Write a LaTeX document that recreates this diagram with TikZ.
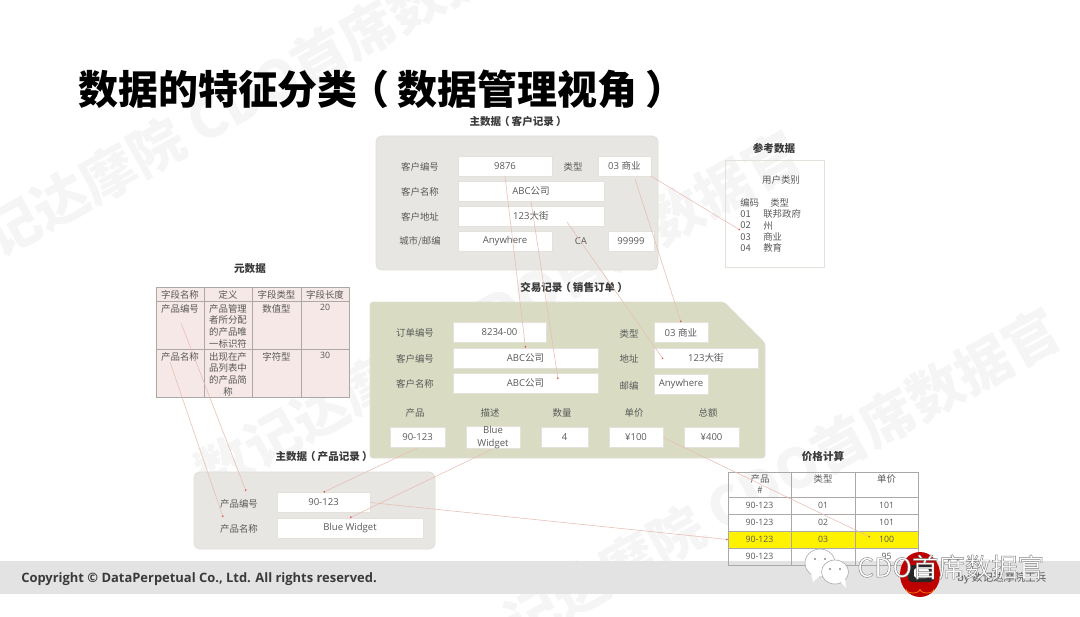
\documentclass[tikz,border=0pt]{standalone}
\usepackage{fontspec}
\setmainfont{Open Sans}
\newfontfamily\cjk{Noto Sans CJK SC}
\usetikzlibrary{arrows.meta,positioning,calc}
\usepackage{xcolor}
\definecolor{labelGray}{HTML}{595959}
\definecolor{headDark}{HTML}{3A3A3A}
\definecolor{panelGray}{HTML}{E7E6E2}
\definecolor{panelEdge}{HTML}{E0DED8}
\definecolor{panelOlive}{HTML}{D9DCC3}
\definecolor{fieldEdge}{HTML}{E3E1DA}
\definecolor{metaPink}{HTML}{F5E8E6}
\definecolor{gridGray}{HTML}{ABA8A6}
\definecolor{linkPink}{HTML}{E8BDB3}
\definecolor{linkDot}{HTML}{D8604F}
\definecolor{bandGray}{HTML}{E3E3E3}
\newcommand{\lpr}{\kern-.2em（\kern.2em}
\newcommand{\rpr}{\kern.2em）\kern-.2em}
\newcommand{\fs}[1]{\fontsize{#1}{#1}\selectfont}
\tikzset{
  wm/.style={anchor=west, rotate=29, inner sep=0pt, text=black!4, font=\fs{39}\cjk\bfseries},
  heading/.style={inner sep=0pt, text=headDark, font=\fontsize{7.5}{9}\selectfont\cjk\bfseries},
  lbl/.style={inner sep=0pt, yshift=-0.4pt, text=labelGray, font=\fontsize{6.7}{8}\selectfont\cjk},
  field/.style={draw=fieldEdge, fill=white, line width=0.5pt, inner sep=0pt, minimum height=0.5cm,
    align=center, text=labelGray, font=\fontsize{6.8}{8.4}\selectfont},
  panel/.style={draw=panelEdge, fill=panelGray, line width=0.6pt, rounded corners=4pt},
  tcell/.style={draw=gridGray, line width=0.5pt, inner sep=0pt, text=labelGray,
    font=\fontsize{6.2}{7.8}\selectfont},
  mtxt/.style={anchor=north, inner sep=0pt, align=center, text=labelGray,
    font=\fontsize{6.7}{8.3}\selectfont\cjk},
  link/.style={draw=linkPink, line width=0.4pt, -{Circle[length=1.2pt,color=linkDot]}}
}
\begin{document}
\begin{tikzpicture}[x=0.025cm,y=-0.025cm]
  \useasboundingbox (0,0) rectangle (1080,617);
  \clip (0,0) rectangle (1080,617);
  % watermark
  \node[wm] (wmA) at (-12,240) {记达摩院 CDO首席数据官};
  \node[wm] (wmB) at (200,478) {数记达摩院 CDO首席数据官};
  \node[wm] (wmC) at (508,628) {记达摩院 CDO首席数据官};
  % footer band
  \fill[bandGray] (0,561) rectangle (1080,594);
  \node[anchor=west,inner sep=0pt,text=headDark,font=\fontsize{9.2}{11}\selectfont\bfseries] (rights) at (21,579)
    {Copyright © DataPerpetual Co., Ltd. All rights reserved.};
  % title
  \node[anchor=west,inner sep=0pt,font=\fs{28.4}\cjk\bfseries] (title) at (78,89)
    {数据的特征分类\lpr 数据管理视角\rpr};

  % customer record
  \node[heading] (custHead) at (517,121) {主数据\lpr 客户记录\rpr};
  \path[panel] (376,136) rectangle (658,270);
  \foreach \n/\x/\y/\txt in {l1/420/166/客户编号,l2/420/191/客户名称,l3/420/216/客户地址,l4/420/241/{城市/邮编},l5/573/166/类型}{
    \node[lbl] (cust\n) at (\x,\y) {\txt};
  }
  \node[lbl,font=\fontsize{6.8}{8}\selectfont] (custCA) at (581,241) {CA};
  \foreach \n/\x/\y/\w/\txt in {custId/505/166/94/9876,custType/624.5/166/53/03 {\cjk 商业},custName/531/191/146/ABC{\cjk 公司},
    custAddr/531/216/146/123{\cjk 大街},custCity/505/241/94/Anywhere,custZip/631/241/46/99999}{
    \node[field,minimum width=\w*0.025cm] (\n) at (\x,\y) {\txt};
  }

  % reference data
  \node[heading] (refHead) at (774,148) {参考数据};
  \draw[draw=fieldEdge,line width=0.6pt] (725,160) rectangle (824,267);
  \node[lbl] (refTitle) at (781,179) {用户类别};
  \foreach \n/\a/\b/\xb/\y in {r0/编码/类型/770/202,r1/01/联邦政府/763/213.5,r2/02/州/763/225,r3/03/商业/763/236.5,r4/04/教育/763/247.5}{
    \node[lbl,anchor=west] (\n a) at (740,\y) {\a};
    \node[lbl,anchor=west] (\n b) at (\xb,\y) {\b};
  }

  % metadata
  \node[heading] (metaHead) at (250,269) {元数据};
  \foreach \n/\x/\y/\w/\h in {a/180/294/48/14,b/228/294/48/14,c/276.5/294/49/14,d/325/294/48/14,
    e/180/325/48/48,f/228/325/48/48,g/276.5/325/49/48,h/325/325/48/48,
    i/180/373/48/48,j/228/373/48/48,k/276.5/373/49/48,l/325/373/48/48}{
    \node[tcell,fill=metaPink,minimum width=\w*0.025cm,minimum height=\h*0.025cm] (meta\n) at (\x,\y) {};
  }
  \foreach \n/\x/\y/\txt in {h1/180/290/字段名称,h2/228/290/定义,h3/276.5/290/字段类型,h4/325/290/字段长度,
    p1/180/304/产品编号,p2/228/304/{产品管理\\者所分配\\的产品唯\\一标识符},p3/276.5/304/数值型,
    q1/180/352/产品名称,q2/228/352/{出现在产\\品列表中\\的产品简\\称},q3/276.5/352/字符型}{
    \node[mtxt] (\n) at (\x,\y) {\txt};
  }
  \node[mtxt,font=\fontsize{6.2}{8}\selectfont] (p4) at (325,304) {20};
  \node[mtxt,font=\fontsize{6.2}{8}\selectfont] (q4) at (325,352) {30};

  % sales order
  \node[heading] (ordHead) at (573,287) {交易记录\lpr 销售订单\rpr};
  \path[draw=panelEdge,fill=panelOlive,line width=0.5pt,rounded corners=2pt] (370,302) -- (724,302) -- (765,343) -- (765,458) -- (370,458) -- cycle;
  \foreach \n/\x/\y/\txt in {o1/415/332/订单编号,o2/415/358/客户编号,o3/415/383/客户名称,o4/629/333/类型,o5/629/358/地址,o6/629/385/邮编,
    o7/415/412/产品,o8/490/412/描述,o9/562/412/数量,o10/634/412/单价,o11/708/412/总额}{
    \node[lbl] (\n) at (\x,\y) {\txt};
  }
  \foreach \n/\x/\y/\w/\txt in {ordNo/499.5/332.5/93/8234-00,ordCust/525.5/358/145/ABC{\cjk 公司},ordName/525.5/383/145/ABC{\cjk 公司},
    ordType/681/332.5/54/03 {\cjk 商业},ordAddr/706/358/104/123{\cjk 大街},ordZip/681/384.5/54/Anywhere,
    ordProd/417.5/437.5/55/90-123,ordDesc/493/437.5/54/{Blue\\[0.5pt]Widget},ordQty/564.5/437.5/47/4,ordPrice/636/437.5/54/¥100,ordTotal/711.5/437.5/55/¥400}{
    \node[field,minimum width=\w*0.025cm] (\n) at (\x,\y) {\txt};
  }

  % product record
  \node[heading] (prodHead) at (323,457) {主数据\lpr 产品记录\rpr};
  \path[panel] (194,472) rectangle (435,549);
  \node[lbl] (prodL1) at (239,503) {产品编号};
  \node[lbl] (prodL2) at (239,528) {产品名称};
  \node[field,minimum width=93*0.025cm] (prodId) at (323.5,502.5) {90-123};
  \node[field,minimum width=146*0.025cm] (prodName) at (350,528) {Blue Widget};

  % price table
  \node[heading] (priceHead) at (823,456) {价格计算};
  \foreach \n/\y/\h/\a/\b/\c/\f in {r1/505.5/17/90-123/01/101/white,r2/522.5/17/90-123/02/101/white,r3/539.5/17/90-123/03/100/yellow,r4/556.5/17/90-123//95/none}{
    \node[tcell,fill=\f,minimum width=63*0.025cm,minimum height=\h*0.025cm] (\n A) at (759.5,\y) {\a};
    \node[tcell,fill=\f,minimum width=64*0.025cm,minimum height=\h*0.025cm] (\n B) at (823,\y) {\b};
    \node[tcell,fill=\f,minimum width=63*0.025cm,minimum height=\h*0.025cm] (\n C) at (886.5,\y) {\c};
  }
  \node[tcell,minimum width=63*0.025cm,minimum height=25*0.025cm] (topA) at (759.5,484.5) {};
  \node[tcell,minimum width=64*0.025cm,minimum height=25*0.025cm] (topB) at (823,484.5) {};
  \node[tcell,minimum width=63*0.025cm,minimum height=25*0.025cm] (topC) at (886.5,484.5) {};
  \node[mtxt] (thA) at (760,474) {产品\\\#};
  \node[mtxt] (thB) at (823,474) {类型};
  \node[mtxt] (thC) at (886.5,474) {单价};

  % links
  \coordinate (dotName) at (558,379);
  \coordinate (startAddr) at (567,222);
  \coordinate (dotAddr) at (663,359);
  \coordinate (startType) at (635,179);
  \coordinate (dotRef) at (740,230);
  \coordinate (dotPrice) at (870,537);
  \coordinate (startMetaA) at (181,323);
  \coordinate (dotProdA) at (246,491);
  \coordinate (startMetaB) at (170,362);
  \coordinate (dotProdB) at (223,517);
  \path[link] (custId.south) -- (ordCust.north);
  \path[link] (custName.south) -- (dotName);
  \path[link] (startAddr) -- (dotAddr);
  \path[link] (startType) -- (ordType.north);
  \path[link] (custType.south east) -- (dotRef);
  \path[link] (ordProd.south) -- (prodId.north);
  \path[link] (ordDesc.south) -- (prodName.north);
  \path[link] (ordPrice.east) -- (dotPrice);
  \path[link] (prodId.east) -- (r3A.west);
  \path[link] (startMetaA) -- (dotProdA);
  \path[link] (startMetaB) -- (dotProdB);

  % badge
  \path[draw=black!35,fill=white,line width=0.4pt] (820,563) ellipse (15 and 14);
  \path[draw=black!35,fill=white,line width=0.4pt] (835,572) ellipse (13.5 and 12);
  \path[fill=white] (811,573) -- (813,582) -- (820,576) -- cycle;
  \path[fill=white] (840,581) -- (846,588) -- (845,578) -- cycle;
  \fill[black!45] (815,559) circle (1.2) (825,559) circle (1.2) (830,569) circle (1.2) (840,569) circle (1.2);
  \path[fill=red!75!black] (920,574.5) ellipse (20 and 22.5);
  \path[fill=black!85,rounded corners=3pt] (908,565) rectangle (934,582);
  \path[fill=white,rounded corners=2pt] (914,568) rectangle (929,578);
  \path[draw=orange,line width=0.5pt] (906,589) arc (180:360:7 and -4) (920,589) arc (180:360:7 and -4);
  \node[anchor=west,inner sep=0pt,text=labelGray,font=\fontsize{7.6}{9}\selectfont\cjk\itshape] (byline) at (957,578) {by 数记达摩院王兵};
  \node[anchor=west,inner sep=0pt,text=white,font=\fontsize{18.8}{19}\selectfont\cjk] (brand) at (857,567)
    {\special{pdf:code 2 Tr 0.3 w 0.5 G}CDO首席数据官\special{pdf:code 0 Tr}};
\end{tikzpicture}
\end{document}
